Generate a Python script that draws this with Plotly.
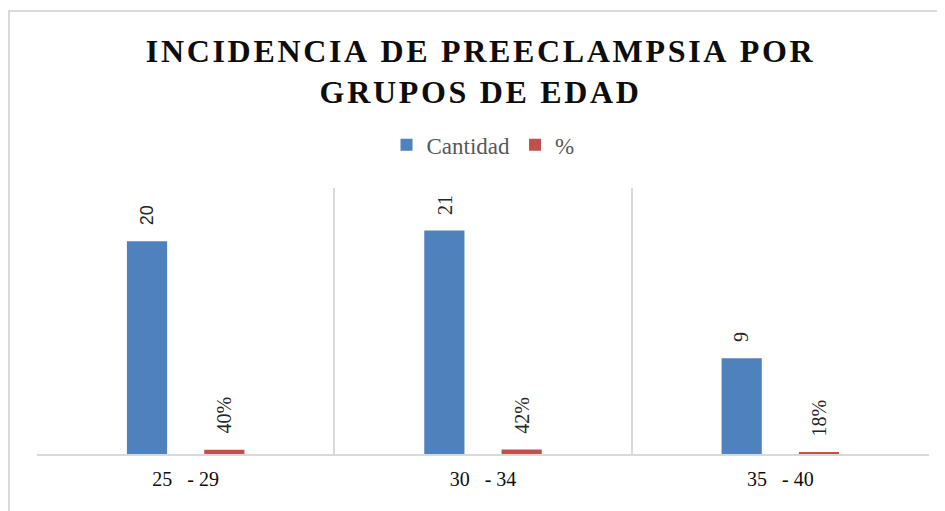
import plotly.graph_objects as go

categories = ["25\u00a0\u00a0\u00a0- 29", "30\u00a0\u00a0\u00a0- 34", "35\u00a0\u00a0\u00a0- 40"]
cantidad = [20, 21, 9]
porcentaje = [0.40, 0.42, 0.18]
cantidad_labels = ["20", "21", "9"]
porcentaje_labels = ["40%", "42%", "18%"]
title_lines = ["INCIDENCIA DE PREECLAMPSIA POR", "GRUPOS DE EDAD"]

BLUE = "#4F81BD"
RED = "#C0504D"
GRID = "#D9D9D9"
SERIF = "Liberation Serif, Times New Roman, serif"

fig = go.Figure()
fig.add_trace(go.Bar(x=categories, y=cantidad, name="Cantidad",
                     marker=dict(color=BLUE, line=dict(width=0))))
fig.add_trace(go.Bar(x=categories, y=porcentaje, name="%",
                     marker=dict(color=RED, line=dict(width=0))))

W, H = 945, 511
ml, mr, mt, mb = 29, 24, 180, 65
pw = W - ml - mr
ph = H - mt - mb
cat_px = pw / len(categories)
offset_px = 0.13 * cat_px

for i, (v, t) in enumerate(zip(cantidad, cantidad_labels)):
    fig.add_annotation(x=i, y=v, text=t, showarrow=False, textangle=-90,
                       xanchor="center", yanchor="bottom", yshift=14,
                       xshift=-offset_px,
                       font=dict(family=("Liberation Sans, Arial, sans-serif" if i == 0 else SERIF),
                                 size=18 if i == 0 else 20, color="#262626"))
for i, (v, t) in enumerate(zip(porcentaje, porcentaje_labels)):
    fig.add_annotation(x=i, y=v, text=t, showarrow=False, textangle=-90,
                       xanchor="center", yanchor="bottom", yshift=14,
                       xshift=offset_px,
                       font=dict(family=SERIF, size=20, color="#262626"))

hair = "\u200a"
title_text = "<br>".join(hair.join(list(line)) for line in title_lines)

fig.update_layout(
    width=W, height=H,
    margin=dict(l=ml, r=mr, t=mt, b=mb),
    paper_bgcolor="white", plot_bgcolor="white",
    barmode="group", bargap=0.48, bargroupgap=0.48,
    title=dict(text="<b>" + title_text + "</b>",
               x=(ml + pw / 2) / W - 0.004, xanchor="center", y=0.895, yanchor="top",
               font=dict(family=SERIF, size=32, color="#0D0D0D")),
    legend=dict(orientation="h", x=0.5, xanchor="center", y=1.162, yanchor="middle",
                font=dict(family=SERIF, size=23, color="#595959"),
                itemwidth=30, traceorder="normal", itemclick=False),
    showlegend=True,
    xaxis=dict(type="category", tickson="boundaries", showgrid=True, gridcolor=GRID,
               gridwidth=1.5, showline=True, linecolor=GRID, linewidth=1.5,
               ticks="", tickfont=dict(family=SERIF, size=20, color="#0D0D0D"),
               ticklabelstandoff=6, range=[-0.5, 2.5]),
    yaxis=dict(range=[0, 25], showgrid=False, showticklabels=False, zeroline=False,
               showline=False),
    shapes=[dict(type="rect", xref="paper", yref="paper",
                 x0=(1 - ml) / pw, x1=(960 - ml) / pw,
                 y0=(H - mb - 540) / ph, y1=(H - mb - 3) / ph,
                 line=dict(color=GRID, width=2), fillcolor="rgba(0,0,0,0)", layer="below")],
)

fig.write_html("out.html")
